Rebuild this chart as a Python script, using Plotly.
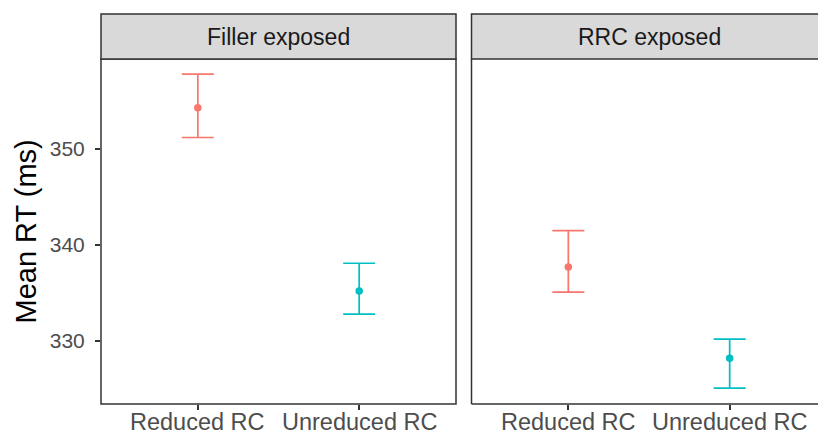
import plotly.graph_objects as go

# ---- data ----
panels = ["Filler exposed", "RRC exposed"]
conditions = ["Reduced RC", "Unreduced RC"]
colors = ["#F8766D", "#00BFC4"]
filler_mean = [354.3, 335.2]
filler_upper = [357.8, 338.1]
filler_lower = [351.2, 332.8]
rrc_mean = [337.7, 328.2]
rrc_upper = [341.5, 330.2]
rrc_lower = [335.1, 325.1]
y_ticks = [330, 340, 350]

W, H = 818, 434
FONT = "Liberation Sans, Arial, Helvetica, sans-serif"

# pixel layout
left_x0, left_x1 = 101, 456
right_x0 = 471.5
panel_w = left_x1 - left_x0
plot_top, plot_bot = 59, 404
strip_top = 14

fig = go.Figure()

data = [(filler_mean, filler_upper, filler_lower, "x", "y"),
        (rrc_mean, rrc_upper, rrc_lower, "x2", "y2")]
for (m, u, l, xa, ya) in data:
    for i, c in enumerate(conditions):
        fig.add_trace(go.Scatter(
            x=[c], y=[m[i]], xaxis=xa, yaxis=ya, mode="markers",
            marker=dict(color=colors[i], size=7.5),
            error_y=dict(type="data", symmetric=False,
                         array=[u[i] - m[i]], arrayminus=[m[i] - l[i]],
                         color=colors[i], thickness=1.7, width=16),
            showlegend=False, hoverinfo="skip"))

ppu = panel_w / 2.2
right_range_max = -0.6 + (W - right_x0) / ppu
yr = [323.44, 359.375]
ydom = [(H - plot_bot) / H, (H - plot_top) / H]

axis_common = dict(showgrid=False, zeroline=False, ticks="outside", ticklen=5,
                   tickwidth=1.5, tickcolor="#333333", showline=False,
                   automargin=False)

fig.update_layout(
    width=W, height=H, margin=dict(l=0, r=0, t=0, b=0),
    paper_bgcolor="white", plot_bgcolor="white",
    font=dict(family=FONT),
    xaxis=dict(domain=[left_x0 / W, left_x1 / W], type="category",
               categoryorder="array", categoryarray=conditions,
               range=[-0.6, 1.6], anchor="y", showticklabels=False,
               **axis_common),
    xaxis2=dict(domain=[right_x0 / W, 1], type="category",
                categoryorder="array", categoryarray=conditions,
                range=[-0.6, right_range_max], anchor="y2", showticklabels=False,
                **axis_common),
    yaxis=dict(domain=ydom, range=yr, anchor="x", tickvals=y_ticks,
               ticklabelstandoff=6,
               tickfont=dict(size=21, color="#4D4D4D"), **axis_common),
    yaxis2=dict(domain=ydom, range=yr, anchor="x2", showticklabels=False,
                showgrid=False, zeroline=False, ticks="", showline=False),
)

def px(x):
    return x / W

def py(y):
    return 1 - y / H

border = dict(color="#333333", width=1.5)
shapes = []
shapes.append(dict(type="rect", xref="paper", yref="paper",
                   x0=px(left_x0), x1=px(left_x1), y0=py(plot_bot), y1=py(plot_top),
                   line=border, fillcolor="rgba(0,0,0,0)", layer="above"))
for x0, x1 in [(left_x0, left_x1), (right_x0, W + 20)]:
    shapes.append(dict(type="rect", xref="paper", yref="paper",
                       x0=px(x0), x1=px(x1), y0=py(plot_top), y1=py(strip_top),
                       line=border, fillcolor="#D9D9D9", layer="above"))
shapes.append(dict(type="line", xref="paper", yref="paper",
                   x0=px(right_x0), x1=px(right_x0), y0=py(plot_bot), y1=py(plot_top),
                   line=border, layer="above"))
shapes.append(dict(type="line", xref="paper", yref="paper",
                   x0=px(right_x0), x1=1.02, y0=py(plot_bot), y1=py(plot_bot),
                   line=border, layer="above"))
fig.update_layout(shapes=shapes)

annotations = [
    dict(text=panels[0], xref="paper", yref="paper",
         x=px((left_x0 + left_x1) / 2), y=py((strip_top + plot_top) / 2),
         showarrow=False, font=dict(size=23, color="#1A1A1A"),
         xanchor="center", yanchor="middle"),
    dict(text=panels[1], xref="paper", yref="paper",
         x=px(right_x0 + panel_w / 2), y=py((strip_top + plot_top) / 2),
         showarrow=False, font=dict(size=23, color="#1A1A1A"),
         xanchor="center", yanchor="middle"),
    dict(text="Mean RT (ms)", xref="paper", yref="paper",
         x=px(25), y=py((plot_top + plot_bot) / 2), textangle=-90,
         showarrow=False, font=dict(size=29, color="black"),
         xanchor="center", yanchor="middle"),
]
for xa in ["x", "x2"]:
    for c in conditions:
        annotations.append(dict(text=c, xref=xa, yref="paper", x=c, y=py(437),
                                showarrow=False, xanchor="center", yanchor="bottom",
                                font=dict(size=23.5, color="#4D4D4D")))
fig.update_layout(annotations=annotations)

fig.write_html("out.html")
